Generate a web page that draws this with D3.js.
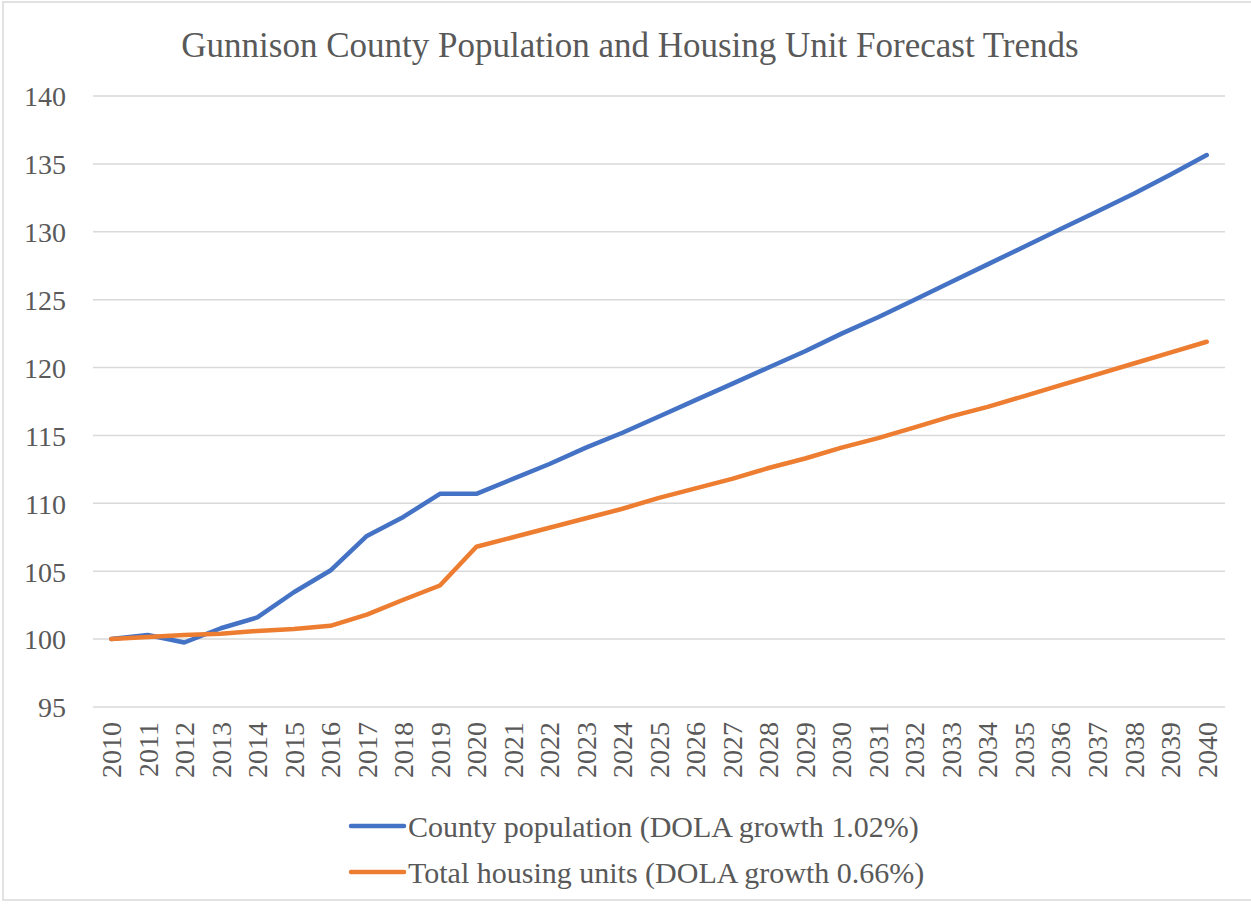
<!DOCTYPE html>
<html>
<head>
<meta charset="utf-8">
<script src="https://cdn.jsdelivr.net/npm/d3@7"></script>
<style>
  body { margin: 0; background: #fff; }
  svg text { font-family: "Liberation Serif", "Times New Roman", serif; fill: #595959; }
</style>
</head>
<body>
<div class="chart"></div>
<script>
const years = ['2010','2011','2012','2013','2014','2015','2016','2017','2018','2019','2020',
  '2021','2022','2023','2024','2025','2026','2027','2028','2029','2030',
  '2031','2032','2033','2034','2035','2036','2037','2038','2039','2040'];

// index, 2010 = 100
const population = [100, 100.3, 99.75, 100.8, 101.6, 103.45, 105.05, 107.6, 109.0, 110.7, 110.7,
  111.8, 112.9, 114.1, 115.2, 116.4, 117.6, 118.8, 120.0, 121.2, 122.5,
  123.7, 125.0, 126.3, 127.6, 128.9, 130.2, 131.5, 132.8, 134.2, 135.65];

const housing = [100, 100.15, 100.3, 100.4, 100.6, 100.75, 100.98, 101.8, 102.9, 103.95, 106.8,
  107.5, 108.2, 108.9, 109.6, 110.4, 111.1, 111.8, 112.6, 113.3, 114.1,
  114.8, 115.6, 116.4, 117.1, 117.9, 118.7, 119.5, 120.3, 121.1, 121.9];

const yTicks = [95, 100, 105, 110, 115, 120, 125, 130, 135, 140];

const seriesNames = ['County population (DOLA growth 1.02%)', 'Total housing units (DOLA growth 0.66%)'];
const seriesColors = ['#4472C4', '#ED7D31'];

let width = 1251, height = 906;
let plotLeft = 93, plotRight = 1225, plotTop = 96, plotBottom = 707;

let svg = d3.select('div.chart').append('svg')
  .attr('width', width)
  .attr('height', height);

svg.append('rect')
  .attr('x', 3).attr('y', 2)
  .attr('width', 1300).attr('height', 898)
  .attr('fill', 'none')
  .attr('stroke', '#D9D9D9')
  .attr('stroke-width', 1.5);

svg.append('text')
  .attr('x', 630).attr('y', 57)
  .attr('text-anchor', 'middle')
  .style('font-size', '35px')
  .text('Gunnison County Population and Housing Unit Forecast Trends');

let x = d3.scaleBand().domain(years).range([plotLeft, plotRight]);
let y = d3.scaleLinear().domain([95, 140]).range([plotBottom, plotTop]);

// gridlines
svg.append('g').selectAll('line')
  .data(yTicks).enter()
  .append('line')
  .attr('x1', plotLeft).attr('x2', plotRight)
  .attr('y1', d => y(d)).attr('y2', d => y(d))
  .attr('stroke', '#D9D9D9')
  .attr('stroke-width', 1.5);

// y axis labels
let yAxis = svg.append('g')
  .attr('transform', 'translate(' + (plotLeft - 27) + ',0)')
  .call(d3.axisLeft(y).tickValues(yTicks).tickSize(0).tickPadding(0));
yAxis.select('.domain').remove();
yAxis.selectAll('text')
  .style('font-size', '28px')
  .attr('fill', '#595959')
  .attr('dy', '0.35em');

// x axis labels
let xAxis = svg.append('g')
  .attr('transform', 'translate(0,' + plotBottom + ')')
  .call(d3.axisBottom(x).tickSize(0).tickPadding(0));
xAxis.select('.domain').remove();
xAxis.selectAll('text')
  .style('font-size', '28px')
  .attr('fill', '#595959')
  .attr('text-anchor', 'end')
  .attr('transform', 'rotate(-90)')
  .attr('x', -15)
  .attr('y', 0)
  .attr('dy', '0.35em');

svg.selectAll('g[font-family]').attr('font-family', null).attr('font-size', null);

let line = d3.line()
  .x((d, i) => x(years[i]) + x.bandwidth() / 2)
  .y(d => y(d));

[population, housing].forEach((vals, k) => {
  svg.append('path')
    .datum(vals)
    .attr('d', line)
    .attr('fill', 'none')
    .attr('stroke', seriesColors[k])
    .attr('stroke-width', 4.5)
    .attr('stroke-linejoin', 'round')
    .attr('stroke-linecap', 'round');
});

// legend
let legend = svg.append('g');
seriesNames.forEach((name, k) => {
  let ly = 826 + k * 46;
  legend.append('line')
    .attr('x1', 351).attr('x2', 404)
    .attr('y1', ly).attr('y2', ly)
    .attr('stroke', seriesColors[k])
    .attr('stroke-width', 4.5)
    .attr('stroke-linecap', 'round');
  legend.append('text')
    .attr('x', 408).attr('y', ly)
    .attr('dy', '0.35em')
    .style('font-size', '30px')
    .text(name);
});
</script>
</body>
</html>
